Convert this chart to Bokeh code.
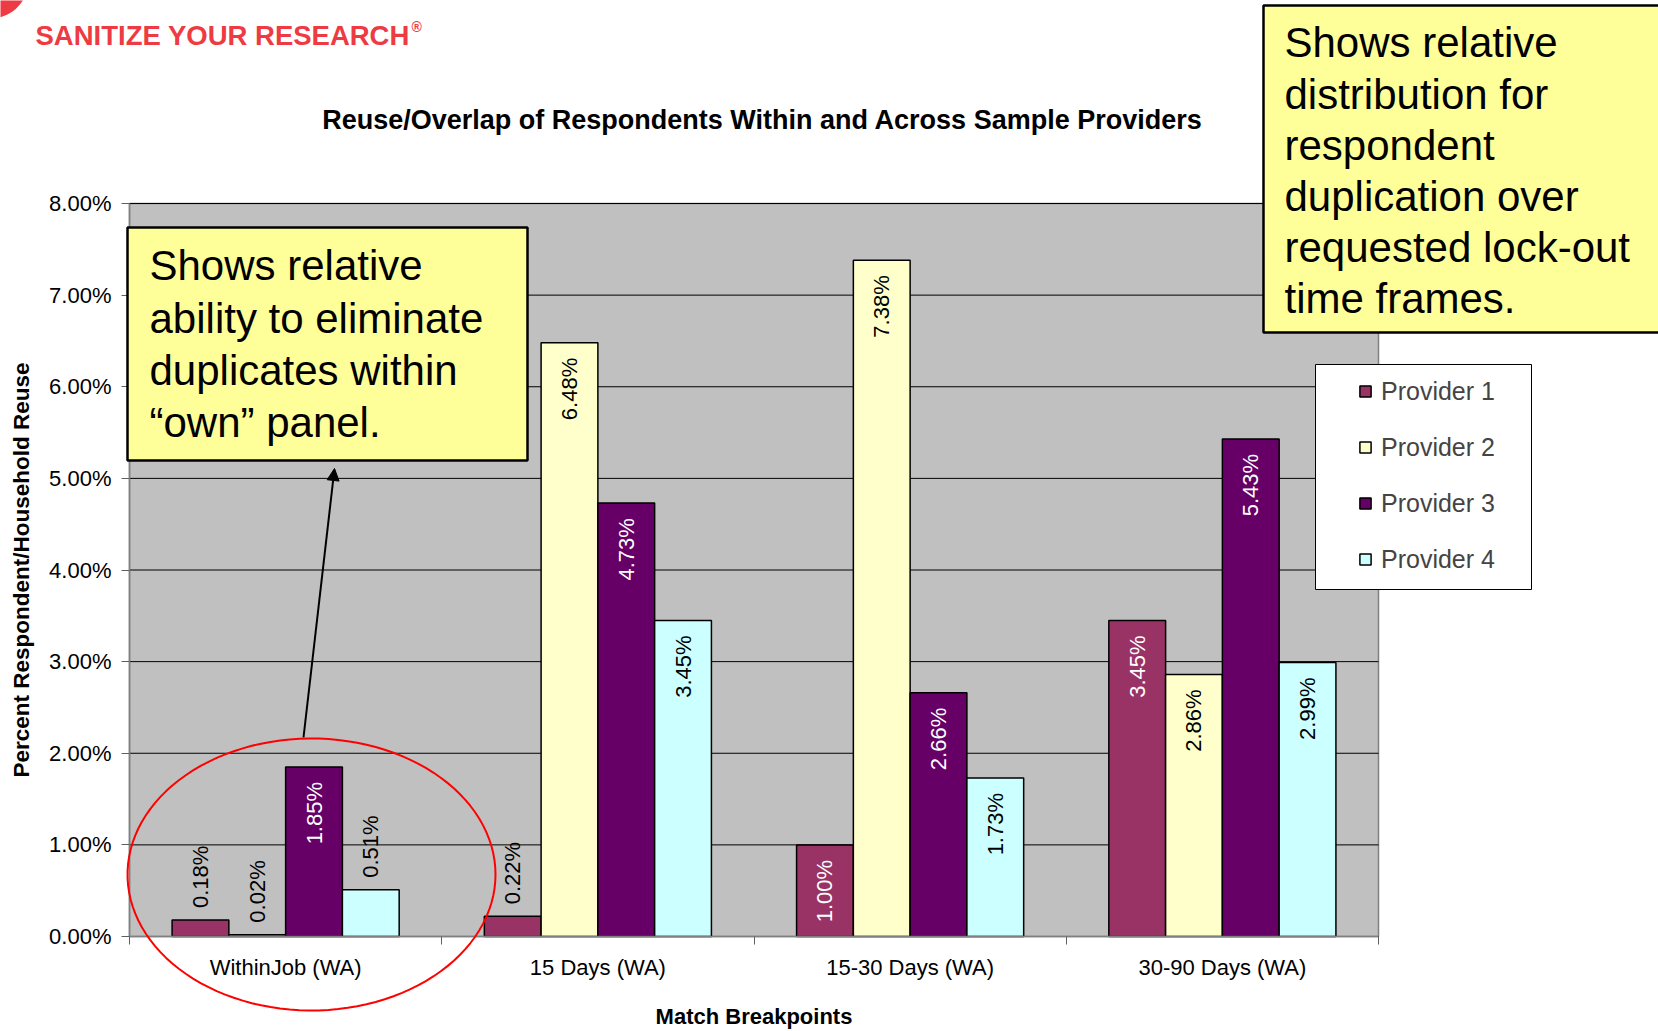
import numpy as np
from bokeh.plotting import figure
from bokeh.models import (ColumnDataSource, FixedTicker, PrintfTickFormatter, Legend, LegendItem,
                          BoxAnnotation, Label, Arrow, NormalHead, PolyAnnotation, Range1d)
from bokeh.core.properties import value
from bokeh.embed import file_html
from bokeh.resources import INLINE

# ---------------- data ----------------
categories = ["WithinJob (WA)", "15 Days (WA)", "15-30 Days (WA)", "30-90 Days (WA)"]
providers = ["Provider 1", "Provider 2", "Provider 3", "Provider 4"]
provider1 = [0.18, 0.22, 1.00, 3.45]
provider2 = [0.02, 6.48, 7.38, 2.86]
provider3 = [1.85, 4.73, 2.66, 5.43]
provider4 = [0.51, 3.45, 1.73, 2.99]
y_ticks = [0, 1, 2, 3, 4, 5, 6, 7, 8]

series = [provider1, provider2, provider3, provider4]
colors = ["#993366", "#FFFFCC", "#660066", "#CCFFFF"]
inside_text_colors = ["white", "black", "white", "black"]

FONT = "Liberation Sans"

# ---------------- geometry (page pixels) ----------------
W, H = 1658, 1031
FL, FR, FT, FB = 129, 1378, 203, 936          # plot area on the page
X0, X1 = 0.0, float(len(categories))
Y0, Y1 = 0.0, float(y_ticks[-1])


def dx(px):
    return X0 + (px - FL) / (FR - FL) * (X1 - X0)


def dy(py):
    return Y0 + (FB - py) / (FB - FT) * (Y1 - Y0)


PX_PER_Y = (FB - FT) / (Y1 - Y0)

p = figure(width=W, height=H, x_range=Range1d(dx(0), dx(W)), y_range=Range1d(dy(H), dy(0)),
           output_backend="svg", toolbar_location=None,
           min_border_left=0, min_border_top=0, min_border_right=0, min_border_bottom=0)
p.background_fill_color = "white"
p.border_fill_color = "white"
p.outline_line_color = None
p.xgrid.visible = False
p.ygrid.visible = False

# plot area
p.add_layout(BoxAnnotation(left=X0, right=X1, bottom=Y0, top=Y1, fill_color="#C0C0C0", fill_alpha=1,
                           line_color="#808080", line_alpha=1, line_width=1.5, level="underlay"))
# horizontal grid lines at the tick values
p.segment(x0=[X0] * len(y_ticks), x1=[X1] * len(y_ticks), y0=y_ticks, y1=y_ticks,
          line_color="black", line_width=1)

# ---------------- bars ----------------
BW = 1.0 / 5.5
GAP_IN = 15.0 / PX_PER_Y
GAP_OUT = 12.0 / PX_PER_Y
LABEL_SIZE = "22px"
renderers = []
for j, vals in enumerate(series):
    xs = [i + 0.5 + (j - 1.5) * BW for i in range(len(categories))]
    src = ColumnDataSource(dict(x=xs, top=vals))
    r = p.vbar(x="x", top="top", width=BW, source=src, fill_color=colors[j],
               line_color="black", line_width=1.5)
    renderers.append(r)

    ins = dict(x=[], y=[], t=[])
    outs = dict(x=[], y=[], t=[])
    for x, v in zip(xs, vals):
        lab = "%.2f%%" % v
        if v >= 0.8:
            ins["x"].append(x); ins["y"].append(v - GAP_IN); ins["t"].append(lab)
        else:
            outs["x"].append(x); outs["y"].append(v + GAP_OUT); outs["t"].append(lab)
    if ins["x"]:
        p.text(x="x", y="y", text="t", source=ColumnDataSource(ins), angle=np.pi / 2,
               text_align="right", text_baseline="middle", text_color=inside_text_colors[j],
               text_font=value(FONT), text_font_size=LABEL_SIZE)
    if outs["x"]:
        p.text(x="x", y="y", text="t", source=ColumnDataSource(outs), angle=np.pi / 2,
               text_align="left", text_baseline="middle", text_color="black",
               text_font=value(FONT), text_font_size=LABEL_SIZE)

# ---------------- axes ----------------
ya = p.yaxis[0]
ya.fixed_location = X0
ya.bounds = (Y0, Y1)
ya.ticker = FixedTicker(ticks=y_ticks)
ya.formatter = PrintfTickFormatter(format="%.2f%%")
ya.major_label_text_font = FONT
ya.major_label_text_font_size = "22px"
ya.major_label_text_color = "black"
ya.major_tick_out = 8
ya.major_tick_in = 0
ya.minor_tick_line_color = None
ya.major_label_standoff = 10
ya.axis_line_color = "#808080"
ya.axis_line_width = 1.5
ya.major_tick_line_color = "#606060"
ya.axis_label = "Percent Respondent/Household Reuse"
ya.axis_label_text_font = FONT
ya.axis_label_text_font_style = "bold"
ya.axis_label_text_font_size = "22.5px"
ya.axis_label_text_color = "black"
ya.axis_label_standoff = 12

xa = p.xaxis[0]
xa.fixed_location = Y0
xa.bounds = (X0, X1)
centers = [i + 0.5 for i in range(len(categories))]
xa.ticker = FixedTicker(ticks=centers, minor_ticks=list(range(len(categories) + 1)))
xa.major_label_overrides = {c: name for c, name in zip(centers, categories)}
xa.major_label_text_font = FONT
xa.major_label_text_font_size = "22px"
xa.major_label_text_color = "black"
xa.major_tick_out = 0
xa.major_tick_in = 0
xa.minor_tick_out = 8
xa.minor_tick_in = 0
xa.minor_tick_line_color = "#606060"
xa.major_label_standoff = 10
xa.axis_line_color = "#808080"
xa.axis_line_width = 1.5
xa.axis_label = "Match Breakpoints"
xa.axis_label_text_font = FONT
xa.axis_label_text_font_style = "bold"
xa.axis_label_text_font_size = "22px"
xa.axis_label_text_color = "black"
xa.axis_label_standoff = 21

# ---------------- title & logo ----------------
p.add_layout(Label(x=dx(762), y=dy(119.5), text="Reuse/Overlap of Respondents Within and Across Sample Providers",
                   text_align="center", text_baseline="middle", text_font=FONT,
                   text_font_style="bold", text_font_size="27px", text_color="black"))

th = np.linspace(0, 2 * np.pi, 120)
p.add_layout(PolyAnnotation(xs=[dx(-10 + 38 * np.cos(t)) for t in th],
                            ys=[dy(-20 + 38 * np.sin(t)) for t in th],
                            fill_color="#EE3B43", fill_alpha=1, line_color=None))
p.add_layout(Label(x=dx(35), y=dy(34.5), text="SANITIZE YOUR RESEARCH",
                   text_align="left", text_baseline="middle", text_font=FONT,
                   text_font_style="bold", text_font_size="27.5px", text_color="#EE3B43"))
p.add_layout(Label(x=dx(411), y=dy(26), text="®", text_align="left", text_baseline="middle",
                   text_font=FONT, text_font_style="bold", text_font_size="14px", text_color="#EE3B43"))

# ---------------- legend ----------------
p.add_layout(BoxAnnotation(left=dx(1315), right=dx(1531), top=dy(364), bottom=dy(589),
                           fill_color="white", fill_alpha=1, line_color="black", line_alpha=1,
                           line_width=1))
legend = Legend(items=[LegendItem(label=providers[j], renderers=[renderers[j]]) for j in range(4)],
                location=(1358, H - 573.6), orientation="vertical",
                background_fill_alpha=0, border_line_alpha=0, padding=0, margin=0,
                spacing=27, glyph_width=14, glyph_height=14, label_standoff=9,
                label_text_font=FONT, label_text_font_size="25px", label_height=14,
                label_text_baseline="middle")
p.add_layout(legend)

# ---------------- callouts ----------------
YELLOW = "#FFFF99"
p.add_layout(BoxAnnotation(left=dx(127), right=dx(527), top=dy(227), bottom=dy(460),
                           fill_color=YELLOW, fill_alpha=1, line_color="black", line_alpha=1,
                           line_width=2.5))
left_lines = ["Shows relative", "ability to eliminate", "duplicates within", "\u201cown\u201d panel."]
for k, t in enumerate(left_lines):
    p.add_layout(Label(x=dx(149), y=dy(265.4 + 52.15 * k), text=t, text_align="left",
                       text_baseline="middle", text_font=FONT, text_font_size="42px",
                       text_color="black"))

p.add_layout(BoxAnnotation(left=dx(1263), right=dx(1720), top=dy(5), bottom=dy(332),
                           fill_color=YELLOW, fill_alpha=1, line_color="black", line_alpha=1,
                           line_width=2.5))
right_lines = ["Shows relative", "distribution for", "respondent", "duplication over",
               "requested lock-out", "time frames."]
for k, t in enumerate(right_lines):
    p.add_layout(Label(x=dx(1284), y=dy(42.3 + 51.2 * k), text=t, text_align="left",
                       text_baseline="middle", text_font=FONT, text_font_size="42px",
                       text_color="black"))

# ---------------- arrow & ellipse ----------------
p.add_layout(Arrow(end=NormalHead(size=12, fill_color="black", line_color="black"),
                   x_start=dx(303), y_start=dy(737), x_end=dx(334), y_end=dy(468),
                   line_color="black", line_width=2))

ex = [dx(311 + 184 * np.cos(t)) for t in th]
ey = [dy(874 + 136 * np.sin(t)) for t in th]
p.add_layout(PolyAnnotation(xs=ex, ys=ey, fill_alpha=0, line_color="#FF0000", line_alpha=1,
                            line_width=2))

open("out.html", "w").write(file_html(p, INLINE))
